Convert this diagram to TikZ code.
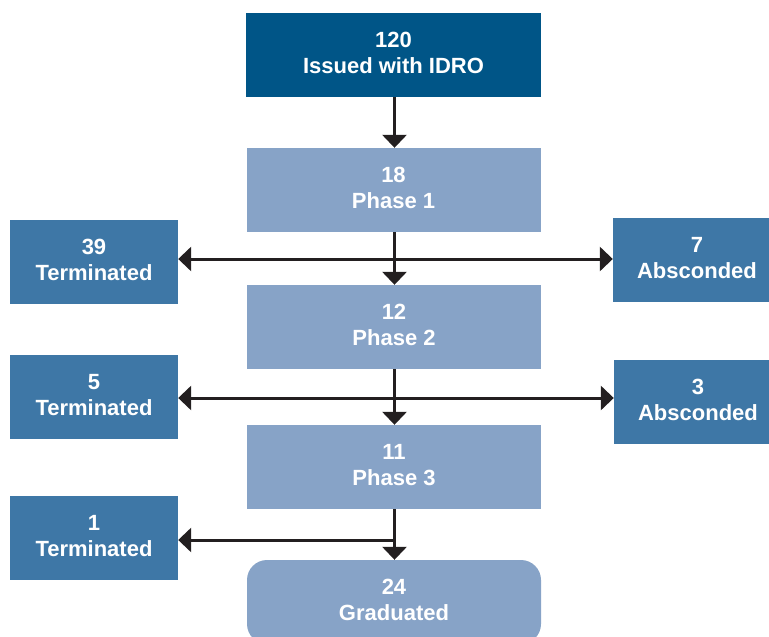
\documentclass[tikz,border=0pt]{standalone}
\usepackage{fontspec}
\setmainfont{Liberation Sans}
\usetikzlibrary{arrows.meta}
\definecolor{darkblue}{HTML}{005587}
\definecolor{phaseblue}{HTML}{87A3C7}
\definecolor{outblue}{HTML}{3E77A6}
\definecolor{arrowcol}{HTML}{231F20}
\begin{document}
\begin{tikzpicture}[x=1pt,y=-1pt,
  box/.style={rectangle, inner sep=0pt, minimum height=84pt, text=white,
    font=\fontsize{22}{26}\selectfont\bfseries, align=center,
    execute at end node={\rule[-3.5pt]{0pt}{3.5pt}}},
  topbox/.style={box, fill=darkblue, minimum width=295pt},
  phasebox/.style={box, fill=phaseblue, minimum width=294pt},
  outbox/.style={box, fill=outblue, minimum width=168pt},
  gradbox/.style={phasebox, rounded corners=20pt},
  arr/.style={line width=3pt, draw=arrowcol, -{Triangle[length=13pt,width=24pt]}},
  arrb/.style={line width=3pt, draw=arrowcol, {Triangle[length=13pt,width=24pt]}-{Triangle[length=13pt,width=24pt]}}]
\useasboundingbox (0,0) rectangle (769,637);
\node[topbox] (top) at (393.5,55) {120\\Issued with IDRO};
\node[phasebox] (p1) at (393.5,190) {18\\Phase 1};
\node[phasebox] (p2) at (394,327) {12\\Phase 2};
\node[phasebox] (p3) at (394,467) {11\\Phase 3};
\node[gradbox] (grad) at (394,602) {24\\Graduated};
\node[outbox] (t1) at (94,262) {39\\Terminated};
\node[outbox] (a1) at (697,260) {7\\Absconded};
\node[outbox] (t2) at (94,397) {5\\Terminated};
\node[outbox] (a2) at (698,401.5) {3\\Absconded};
\node[outbox] (t3) at (94,537.5) {1\\Terminated};
\coordinate (j1) at (394.5,259);
\coordinate (j2) at (394.5,398);
\coordinate (j3) at (394.5,540);
\draw[arr] (top.south -| j1) -- (p1.north -| j1);
\draw[arr] (p1.south -| j1) -- (p2.north -| j1);
\draw[arr] (p2.south -| j2) -- (p3.north -| j2);
\draw[arr] (p3.south -| j3) -- (grad.north -| j3);
\draw[arrb] (j1 -| t1.east) -- (j1 -| a1.west);
\draw[arrb] (j2 -| t2.east) -- (j2 -| a2.west);
\draw[arr] (j3) -- (j3 -| t3.east);
\end{tikzpicture}
\end{document}
